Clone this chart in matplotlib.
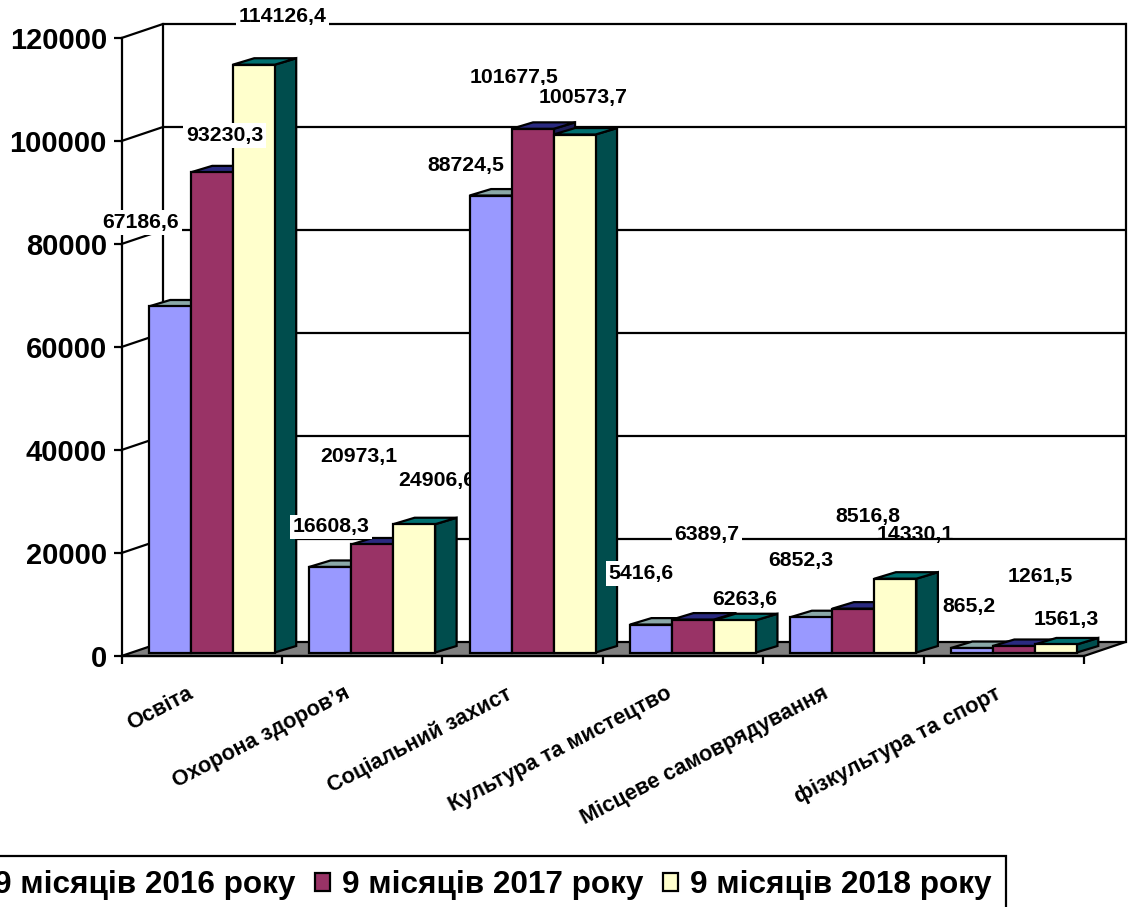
import matplotlib
matplotlib.use("Agg")
import matplotlib.pyplot as plt
from matplotlib.patches import Patch

plt.rcParams['font.family'] = ['Liberation Sans', 'DejaVu Sans']
plt.rcParams['font.weight'] = 'bold'

categories = ['Освіта', 'Охорона здоров’я', 'Соціальний захист',
              'Культура та мистецтво', 'Місцеве самоврядування', 'фізкультура та спорт']
series_names = ['9 місяців 2016 року', '9 місяців 2017 року', '9 місяців 2018 року']
values_2016 = [67186.6, 16608.3, 88724.5, 5416.6, 6852.3, 865.2]
values_2017 = [93230.3, 20973.1, 101677.5, 6389.7, 8516.8, 1261.5]
values_2018 = [114126.4, 24906.6, 100573.7, 6263.6, 14330.1, 1561.3]
labels_2016 = ['67186,6', '16608,3', '88724,5', '5416,6', '6852,3', '865,2']
labels_2017 = ['93230,3', '20973,1', '101677,5', '6389,7', '8516,8', '1261,5']
labels_2018 = ['114126,4', '24906,6', '100573,7', '6263,6', '14330,1', '1561,3']
y_ticks = [0, 20000, 40000, 60000, 80000, 100000, 120000]

series = [values_2016, values_2017, values_2018]
text_series = [labels_2016, labels_2017, labels_2018]
front_colors = ['#9999FF', '#993366', '#FFFFCC']
top_colors = ['#8AA8A8', '#2A2A80', '#007070']
side_colors = ['#5F7777', '#1C1C58', '#004D4D']

# label placement relative to bar top, pixels (dx, dy up)
label_offsets = [
    [(-29, 84), (1, 40), (-25, 30), (-10, 51), (-11, 57), (-3, 42)],
    [(13, 37), (-13, 88), (-19, 51), (14, 85), (15, 92), (26, 70)],
    [(29, 48), (23, 44), (9, 37), (10, 21), (20, 44), (10, 25)],
]
# labels drawn without a white box behind them: (series, category)
no_box = {(2, 4)}
# per-label pixel nudges of the category names
name_shift = [-4, -7, -6, -6, -10, 2]

W, H = 1128, 907
fig = plt.figure(figsize=(W / 100, H / 100), dpi=100, facecolor='white')
ax = fig.add_axes([121.5 / W, 1 - 656 / H, (1084 - 121.5) / W, (656 - 38) / H])
n = len(categories)
ax.set_xlim(0, n)
ax.set_ylim(0, 120000)
ax.patch.set_alpha(0)
px_x = n / (1084 - 121.5)
px_y = 120000 / (656 - 38)

wall_dx, wall_dy = 41.5 * px_x, 14 * px_y
bar_w = 42 * px_x
off_x, off_y = 10 * px_x, 3.5 * px_y
depth_x, depth_y = 21.5 * px_x, 6.5 * px_y
LW = 1.6

# floor, walls, gridlines
ax.fill([0, wall_dx, n + wall_dx, n], [0, wall_dy, wall_dy, 0],
        facecolor='#808080', edgecolor='black', lw=LW, clip_on=False, zorder=1)
for t in y_ticks[1:]:
    ax.plot([0, wall_dx, n + wall_dx], [t, t + wall_dy, t + wall_dy],
            color='black', lw=LW, clip_on=False, zorder=2, solid_joinstyle='miter')
ax.plot([wall_dx, wall_dx], [wall_dy, 120000 + wall_dy], color='black', lw=LW, clip_on=False, zorder=2)
ax.plot([n + wall_dx] * 2, [wall_dy, 120000 + wall_dy], color='black', lw=LW, clip_on=False, zorder=2)

for side in ('top', 'right'):
    ax.spines[side].set_visible(False)
for side in ('left', 'bottom'):
    ax.spines[side].set_linewidth(LW)
ax.set_yticks(y_ticks)
ax.set_yticklabels([str(t) for t in y_ticks], fontsize=21, fontweight='bold')
ax.set_xticks(range(n + 1))
ax.set_xticklabels([])
ax.tick_params(axis='both', length=6, width=LW, pad=4.5)

# bars, group by group
z = 3
for i in range(n):
    for j in range(3):
        v = series[j][i]
        x0 = i + 0.5 + off_x + (j - 1.5) * bar_w
        x1 = x0 + bar_w
        y1 = off_y + v
        ax.fill([x1, x1 + depth_x, x1 + depth_x, x1],
                [off_y, off_y + depth_y, y1 + depth_y, y1],
                facecolor=side_colors[j], edgecolor='black', lw=LW, clip_on=False,
                zorder=z, joinstyle='miter')
        ax.fill([x0, x0 + depth_x, x1 + depth_x, x1],
                [y1, y1 + depth_y, y1 + depth_y, y1],
                facecolor=top_colors[j], edgecolor='black', lw=LW, clip_on=False,
                zorder=z, joinstyle='miter')
        ax.bar(x0, v, width=bar_w, bottom=off_y, align='edge', color=front_colors[j],
               edgecolor='black', linewidth=LW, clip_on=False, zorder=z)
        z += 0.01
    for j in range(3):
        v = series[j][i]
        dx, dy = label_offsets[j][i]
        xc = i + 0.5 + off_x + (j - 1) * bar_w + dx * px_x
        yc = off_y + v + dy * px_y
        box = None if (j, i) in no_box else dict(facecolor='white', edgecolor='none', pad=2)
        ax.text(xc, yc, text_series[j][i], ha='center', va='center', fontsize=15.3,
                fontweight='bold', color='black', zorder=z, clip_on=False, bbox=box)
        z += 0.01

# category labels
for i, name in enumerate(categories):
    ax.annotate(name, xy=(i + 0.5, 0), xycoords='data',
                xytext=(-8 + name_shift[i] * 0.72, -19.5),
                textcoords='offset points', rotation=27.5, rotation_mode='anchor',
                ha='right', va='top', fontsize=15.7, fontweight='bold', annotation_clip=False)

# legend
handles = [Patch(facecolor=c, edgecolor='black', linewidth=LW) for c in front_colors]
leg = fig.legend(handles, series_names, loc='upper right',
                 bbox_to_anchor=(1006 / W, 1 - 856 / H), bbox_transform=fig.transFigure,
                 ncol=3, frameon=True, fancybox=False, framealpha=1,
                 edgecolor='black', borderpad=0.45, borderaxespad=0,
                 handlelength=0.5, handleheight=0.5, handletextpad=0.38,
                 columnspacing=0.6, prop={'family': 'Liberation Sans', 'weight': 'bold', 'size': 22.7})
leg.get_frame().set_linewidth(LW)

fig.savefig('out.png', dpi=100, facecolor='white')
